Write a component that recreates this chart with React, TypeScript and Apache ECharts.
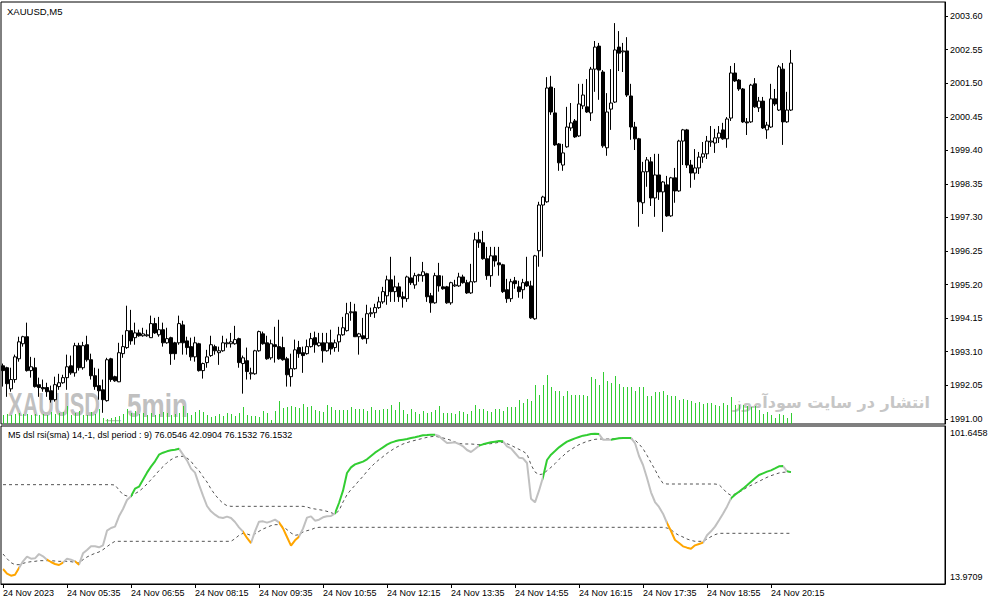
import React, { useEffect, useRef } from "react";
import * as echarts from "echarts";

const symbolTitle = "XAUUSD,M5";
const indicatorTitle = "M5 dsl rsi(sma) 14,-1, dsl period : 9) 76.0546 42.0904 76.1532 76.1532";
const firstDateLabel = "24 Nov 2023";
const dayLabel = "24 Nov";
const startMinutes = 4 * 60 + 15;
const barMinutes = 5;
const barCount = 198;
const emptySlots = 38;
const labelEvery = 16;

const priceTicks = [1991.0, 1992.05, 1993.1, 1994.15, 1995.2, 1996.25, 1997.3, 1998.35, 1999.4, 2000.45, 2001.5, 2002.55, 2003.6];
const priceRange = [1990.84, 2004.04];
const rsiScale = [13.9709, 101.6458];

// [open, close, low, high]
const candles = [
  [1992.66, 1992.51, 1992.01, 1992.73], [1992.6, 1992.1, 1991.69, 1992.63], [1991.94, 1992.23, 1991.85, 1992.6], [1992.23, 1992.94, 1992.13, 1993.01],
  [1992.88, 1993.41, 1992.79, 1993.57], [1993.35, 1993.57, 1993.26, 1993.6], [1993.57, 1992.51, 1992.48, 1994.01], [1992.51, 1992.63, 1992.29, 1992.94],
  [1992.6, 1992.01, 1991.98, 1992.91], [1992.07, 1991.98, 1991.69, 1992.29], [1991.98, 1991.94, 1991.85, 1992.23], [1991.98, 1991.85, 1991.69, 1992.13],
  [1991.88, 1991.6, 1991.51, 1992.04], [1991.6, 1992.07, 1991.54, 1992.32], [1992.01, 1992.13, 1991.91, 1992.41], [1992.13, 1992.29, 1992.1, 1992.38],
  [1992.29, 1992.63, 1991.91, 1993.01], [1992.66, 1992.44, 1992.38, 1992.98], [1992.44, 1993.29, 1992.32, 1993.38], [1993.29, 1992.6, 1992.51, 1993.38],
  [1992.6, 1993.29, 1992.54, 1993.41], [1993.32, 1992.85, 1992.79, 1993.6], [1992.85, 1992.35, 1992.23, 1993.04], [1992.35, 1992.01, 1991.91, 1992.6],
  [1992.04, 1991.88, 1991.6, 1992.57], [1991.91, 1991.6, 1991.19, 1992.23], [1991.57, 1992.85, 1991.54, 1992.91], [1992.88, 1992.23, 1992.16, 1992.91],
  [1992.32, 1992.19, 1992.16, 1992.35], [1992.16, 1993.07, 1992.15, 1993.38], [1993.04, 1993.26, 1992.91, 1993.63], [1993.23, 1993.76, 1993.19, 1994.54],
  [1993.76, 1993.44, 1993.32, 1994.41], [1993.54, 1993.69, 1993.32, 1994.01], [1993.69, 1993.6, 1993.57, 1993.79], [1993.6, 1993.66, 1993.57, 1993.85],
  [1993.6, 1993.63, 1993.57, 1993.79], [1993.54, 1993.98, 1993.53, 1994.23], [1993.98, 1993.69, 1993.66, 1994.16], [1993.63, 1993.79, 1993.57, 1994.19],
  [1993.79, 1993.38, 1993.26, 1994.01], [1993.38, 1993.51, 1993.35, 1993.85], [1993.54, 1993.04, 1992.69, 1993.57], [1993.38, 1993.04, 1992.85, 1993.41],
  [1993.38, 1993.98, 1993.32, 1994.23], [1993.94, 1993.38, 1993.01, 1994.07], [1993.44, 1993.23, 1993.01, 1993.57], [1993.26, 1992.94, 1992.82, 1993.54],
  [1992.94, 1993.38, 1992.79, 1993.57], [1993.35, 1992.51, 1992.48, 1993.38], [1992.51, 1992.73, 1992.26, 1992.76], [1992.76, 1992.94, 1992.6, 1993.16],
  [1992.98, 1993.32, 1992.94, 1993.6], [1993.26, 1993.13, 1993.01, 1993.32], [1993.07, 1993.13, 1992.69, 1993.26], [1993.13, 1993.38, 1993.1, 1993.6],
  [1993.35, 1993.38, 1993.23, 1993.51], [1993.35, 1993.41, 1993.23, 1993.69], [1993.35, 1993.48, 1993.32, 1993.91], [1993.51, 1992.76, 1992.6, 1993.54],
  [1992.73, 1992.91, 1991.79, 1992.98], [1992.82, 1992.48, 1992.23, 1993.23], [1992.41, 1992.44, 1992.23, 1992.6], [1992.41, 1993.13, 1992.38, 1993.16],
  [1993.13, 1993.73, 1993.1, 1993.76], [1993.66, 1993.35, 1993.32, 1993.73], [1993.38, 1992.88, 1992.85, 1993.6], [1992.91, 1993.35, 1992.85, 1993.48],
  [1993.32, 1993.26, 1992.76, 1993.88], [1993.26, 1992.88, 1992.85, 1994.1], [1993.23, 1992.85, 1992.82, 1993.57], [1992.88, 1992.38, 1992.01, 1992.94],
  [1992.32, 1992.57, 1992.01, 1993.04], [1992.57, 1993.16, 1992.54, 1993.48], [1993.23, 1993.04, 1992.91, 1993.44], [1993.07, 1992.98, 1992.44, 1993.26],
  [1993.04, 1993.26, 1993.01, 1993.48], [1993.26, 1993.51, 1993.23, 1993.69], [1993.54, 1993.32, 1993.07, 1993.73], [1993.29, 1993.38, 1993.26, 1993.69],
  [1993.38, 1993.13, 1992.76, 1993.69], [1993.13, 1993.38, 1993.1, 1993.69], [1993.38, 1993.19, 1993.01, 1993.79], [1993.23, 1993.38, 1993.1, 1993.48],
  [1993.41, 1993.63, 1993.1, 1993.88], [1993.63, 1993.85, 1993.6, 1994.19], [1993.76, 1994.29, 1993.73, 1994.63], [1994.32, 1994.35, 1994.07, 1994.66],
  [1994.35, 1993.57, 1993.56, 1994.6], [1993.57, 1993.66, 1993.01, 1993.69], [1993.6, 1993.51, 1993.48, 1994.16], [1993.51, 1994.29, 1993.35, 1994.57],
  [1994.29, 1994.32, 1994.19, 1994.48], [1994.32, 1994.48, 1994.16, 1994.6], [1994.48, 1994.66, 1994.44, 1994.82], [1994.66, 1994.98, 1994.6, 1995.13],
  [1994.85, 1995.35, 1994.57, 1995.48], [1995.35, 1994.98, 1994.66, 1996.07], [1994.98, 1995.13, 1994.66, 1995.48], [1995.13, 1994.82, 1994.66, 1995.26],
  [1994.82, 1994.76, 1994.48, 1994.98], [1994.76, 1995.44, 1994.66, 1995.48], [1995.41, 1995.26, 1995.19, 1996.07], [1995.19, 1995.48, 1995.07, 1995.57],
  [1995.48, 1995.51, 1995.29, 1995.54], [1995.48, 1995.6, 1995.29, 1995.91], [1995.54, 1994.82, 1994.66, 1995.57], [1994.85, 1994.63, 1994.32, 1994.94],
  [1994.63, 1995.48, 1994.6, 1995.57], [1995.48, 1995.16, 1994.98, 1995.88], [1995.13, 1995.07, 1995.04, 1995.48], [1995.13, 1994.63, 1994.6, 1995.16],
  [1994.63, 1995.26, 1994.57, 1995.29], [1995.16, 1995.19, 1995.13, 1995.35], [1995.16, 1995.44, 1995.13, 1995.57], [1995.44, 1995.26, 1995.23, 1995.51],
  [1995.26, 1994.94, 1994.91, 1995.35], [1994.94, 1995.29, 1994.91, 1995.85], [1995.29, 1996.6, 1995.26, 1996.82], [1996.6, 1996.51, 1996.35, 1996.85],
  [1996.51, 1996.01, 1995.98, 1996.88], [1996.01, 1995.48, 1995.35, 1996.38], [1995.48, 1996.1, 1995.13, 1996.38], [1996.1, 1995.94, 1995.76, 1996.38],
  [1995.88, 1995.82, 1995.48, 1996.38], [1995.82, 1994.98, 1994.94, 1995.85], [1995.04, 1994.76, 1994.63, 1995.38], [1994.76, 1995.29, 1994.66, 1995.38],
  [1995.32, 1995.23, 1995.07, 1995.44], [1995.13, 1994.98, 1994.79, 1995.32], [1995.04, 1995.26, 1994.76, 1995.38], [1995.29, 1995.16, 1995.13, 1996.07],
  [1995.16, 1994.16, 1994.13, 1995.32], [1994.13, 1996.1, 1994.1, 1996.13], [1996.26, 1997.69, 1995.76, 1997.79], [1997.69, 1997.94, 1996.07, 1997.98],
  [1997.79, 2001.35, 1997.76, 2001.69], [2001.38, 2000.6, 2000.51, 2001.73], [2000.57, 1999.57, 1999.54, 2001.35], [1999.6, 1999.01, 1998.76, 1999.63],
  [1998.94, 1999.32, 1998.76, 1999.6], [1999.51, 2000.13, 1999.48, 2000.76], [2000.1, 2000.26, 2000.01, 2000.88], [2000.32, 1999.82, 1999.79, 2000.38],
  [1999.85, 2000.85, 1999.82, 2001.48], [2000.79, 2001.13, 2000.69, 2001.48], [2000.76, 2000.6, 2000.57, 2001.63], [2000.57, 2001.94, 2000.32, 2002.01],
  [2001.94, 2002.63, 2001.23, 2002.82], [2002.66, 2001.91, 2000.98, 2002.76], [2001.85, 1999.54, 1999.48, 2001.91], [1999.48, 2000.6, 1999.23, 2001.19],
  [2000.69, 2000.88, 2000.04, 2001.94], [2000.91, 2002.54, 2000.88, 2003.38], [2002.63, 2002.44, 2001.88, 2003.13], [2002.48, 2002.51, 2001.85, 2002.76],
  [2002.51, 2001.13, 2001.07, 2002.94], [2001.1, 2000.13, 1999.73, 2001.48], [2000.13, 1999.76, 1999.41, 2000.29], [1999.76, 1997.79, 1997.01, 1999.79],
  [1997.76, 1998.73, 1997.41, 1999.04], [1998.73, 1999.1, 1998.26, 1999.19], [1999.04, 1997.91, 1997.66, 1999.19], [1997.91, 1998.63, 1997.32, 1999.29],
  [1998.63, 1998.1, 1997.85, 1999.29], [1998.1, 1998.41, 1996.85, 1998.44], [1998.32, 1997.35, 1997.32, 1998.6], [1997.35, 1998.54, 1997.32, 1998.57],
  [1998.54, 1998.13, 1997.76, 1998.85], [1998.13, 1999.69, 1998.1, 1999.73], [1999.69, 2000.04, 1998.94, 2000.07], [2000.04, 1998.94, 1998.85, 2000.07],
  [1998.94, 1998.69, 1998.23, 1999.1], [1998.69, 1998.85, 1998.48, 1999.44], [1998.85, 1999.19, 1998.66, 1999.35], [1999.19, 1999.29, 1999.01, 1999.66],
  [1999.29, 1999.69, 1999.13, 1999.85], [1999.66, 1999.69, 1999.51, 2000.16], [1999.63, 1999.79, 1999.32, 2000.07], [1999.79, 1999.94, 1999.63, 2000.16],
  [2000.04, 1999.76, 1999.73, 2000.26], [1999.76, 2000.38, 1999.48, 2000.44], [2000.41, 2001.82, 2000.32, 2002.04], [2001.82, 2001.57, 2001.54, 2002.13],
  [2001.6, 2001.32, 2001.26, 2001.63], [2001.32, 2000.29, 2000.26, 2001.35], [2000.29, 2000.26, 1999.88, 2000.41], [2000.29, 2001.44, 2000.26, 2001.48],
  [2001.48, 2000.76, 2000.73, 2001.66], [2000.73, 2000.94, 2000.6, 2001.07], [2000.94, 2000.1, 2000.07, 2001.07], [2000.04, 2000.19, 1999.76, 2000.29],
  [2000.13, 2001.01, 2000.1, 2001.48], [2001.01, 2000.85, 2000.79, 2001.32], [2000.66, 2002.01, 2000.63, 2002.07], [2001.94, 2000.29, 1999.57, 2002.13],
  [2000.29, 2000.66, 2000.26, 2001.23], [2000.66, 2002.13, 2000.63, 2002.54],
];

const volumes = [
  9, 10, 9, 10, 11, 10, 10, 9, 10, 9, 10, 9, 12, 10, 11, 12, 18, 9, 11, 13,
  9, 9, 12, 10, 15, 6, 5, 6, 7, 8, 10, 15, 11, 13, 10, 11, 9, 11, 9, 10,
  12, 11, 9, 10, 11, 18, 11, 9, 12, 14, 12, 9, 7, 8, 10, 8, 11, 10, 8, 11,
  17, 9, 8, 8, 7, 13, 11, 4, 13, 23, 16, 17, 18, 17, 16, 20, 17, 18, 14, 13,
  12, 19,
  17, 14, 14, 14, 14, 17, 15, 15, 15, 13, 17, 14, 14, 15, 15, 19, 14, 22, 14, 10,
  15, 12, 10, 13, 11, 12, 14, 18, 11, 11, 11, 10, 13, 12, 10, 13, 19, 15, 15, 13,
  12, 15, 15, 13, 17, 17, 17, 24, 21, 25, 23, 39, 29, 39, 49, 37, 33, 33, 28, 33,
  29, 29, 29, 29, 28, 47, 45, 39, 52, 43, 41, 48, 40, 37, 37, 37, 33, 37, 37, 28,
  28, 32, 32,
  33, 29, 28, 28, 24, 25, 24, 23, 21, 22, 20, 21, 21, 19, 18, 21, 19, 27, 19, 19,
  19, 18, 17, 18, 14, 10, 12, 9, 6, 10, 9, 6, 11,
];

const rsi = [
  22.29, 19.7, 18.6, 19.15, 22.85, 26.55, 29.14, 28.03, 28.21, 30.62,
  29.33, 27.47, 26.18, 25.07, 24.51, 25.81, 28.03, 27.47, 26.55, 24.7,
  30.99, 32.84, 34.87, 34.87, 34.32, 35.43, 43.57, 45.05, 45.79, 51.52,
  55.59, 60.58, 62.62, 66.87, 67.98, 71.87, 75.75, 79.08, 82.04, 85.74,
  86.84, 87.59, 88.14, 88.51, 89.07, 85.74, 82.59, 77.97, 75.75, 69.09,
  62.99, 57.25, 54.29, 52.44, 50.97, 50.59, 51.34, 50.59, 48.38, 45.42,
  43.01, 39.5, 36.72, 43.2, 48.56, 48.75, 48.01, 48.75, 49.67, 48.19,
  44.86, 40.05, 35.24, 38.2, 40.24, 44.67, 50.78, 51.52, 49.12, 49.67,
  50.97, 51.52, 51.7, 53.18, 58.92, 65.76, 75.57, 78.71, 80.37, 81.11,
  81.85, 83.15, 85.0, 86.84, 88.33, 89.81, 91.29, 92.4, 93.14, 93.69,
  94.06, 94.43, 94.99, 95.36, 95.91, 96.47, 96.65, 96.84, 96.84, 96.1,
  94.06, 92.21, 92.4, 92.58, 91.66, 90.36, 88.33, 87.22, 88.88, 90.73,
  91.47, 92.03, 92.58, 92.95, 93.32, 93.14, 90.36, 89.25, 86.66, 84.07,
  83.7, 81.11, 61.32, 59.29, 65.76, 73.16, 82.78, 85.74, 87.77, 89.81,
  91.47, 92.95, 93.88, 94.8, 95.54, 96.28, 96.65, 97.21, 97.39, 97.21,
  94.06, 94.06, 94.06, 94.43, 94.8, 94.99, 94.99, 94.99, 92.21, 85.0,
  80.0, 72.79, 64.84, 59.47, 56.7, 53.0, 47.82, 43.38, 38.39, 36.72,
  34.87, 34.13, 33.58, 35.43, 36.17, 36.91, 40.98, 43.2, 45.79, 49.3,
  53.0, 56.88, 61.51, 63.54, 65.2, 66.87, 68.72, 70.76, 72.61, 74.46,
  75.38, 76.3, 77.05, 78.15, 79.26, 79.45, 76.49, 76.0546,
];

const levelUp = [
  69.09, 69.09, 69.09, 69.09, 69.09, 69.09, 69.09, 69.09, 69.09, 69.09,
  69.09, 69.09, 69.09, 69.09, 69.09, 69.09, 69.09, 69.09, 69.09, 69.09,
  69.09, 69.09, 69.09, 69.09, 69.09, 69.09, 69.09, 69.09, 68.91, 66.13,
  63.54, 62.8, 62.7, 64.1, 65.39, 67.24, 69.46, 71.87, 74.27, 76.86,
  79.08, 81.3, 82.96, 84.26, 84.81, 84.81, 83.89, 82.04, 79.08, 76.86,
  73.53, 70.57, 66.69, 63.54, 60.95, 58.73, 57.44, 57.07, 57.07, 57.07,
  57.07, 57.07, 57.07, 57.07, 57.07, 57.07, 57.07, 57.07, 57.07, 57.07,
  57.07, 57.07, 57.07, 57.07, 57.07, 57.07, 56.7, 55.96, 55.59, 55.22,
  54.85, 54.29, 53.55, 52.81, 54.66, 59.47, 63.54, 66.32, 68.72, 71.31,
  73.72, 76.49, 78.9, 81.11, 82.96, 84.63, 86.48, 87.96, 89.44, 90.55,
  91.66, 92.4, 93.14, 93.69, 94.25, 94.8, 95.36, 95.73, 95.91, 95.54,
  94.99, 94.43, 93.69, 92.77, 92.03, 91.66, 91.66, 91.66, 91.47, 91.29,
  91.47, 91.66, 91.84, 92.21, 92.58, 92.58, 91.84, 90.92, 89.81, 88.7,
  87.59, 86.11, 80.19, 76.12, 74.64, 75.01, 76.86, 78.71, 80.74, 83.15,
  85.0, 87.22, 88.51, 89.99, 91.29, 92.21, 93.14, 93.69, 94.25, 94.43,
  94.43, 94.43, 94.43, 94.62, 94.8, 94.8, 94.8, 94.62, 93.88, 91.66,
  89.07, 85.37, 81.3, 77.41, 73.16, 69.83, 69.46, 69.46, 69.46, 69.46,
  69.46, 69.46, 69.46, 69.46, 69.46, 69.46, 69.46, 69.46, 69.46, 69.09,
  66.87, 64.47, 63.17, 63.91, 64.84, 66.13, 67.61, 68.72, 69.83, 70.94,
  72.05, 73.16, 74.09, 74.83, 75.57, 75.93, 76.12, 76.1532,
];

const levelDown = [
  30.62, 28.03, 25.81, 24.7, 24.7, 25.44, 25.99, 26.36, 26.55, 26.92,
  26.92, 26.92, 26.92, 26.73, 26.55, 26.55, 26.55, 26.36, 25.99, 25.62,
  27.47, 28.95, 30.06, 30.99, 31.73, 33.02, 34.69, 36.35, 37.65, 37.65,
  37.65, 37.65, 37.65, 37.65, 37.65, 37.65, 37.65, 37.65, 37.65, 37.65,
  37.65, 37.65, 37.65, 37.65, 37.65, 37.65, 37.65, 37.65, 37.65, 37.65,
  37.65, 37.65, 37.65, 37.65, 37.65, 37.65, 37.65, 37.65, 39.13, 40.98,
  42.09, 41.72, 40.98, 41.72, 43.2, 44.49, 45.42, 46.34, 46.9, 46.9,
  45.79, 44.12, 42.27, 40.98, 41.35, 42.83, 43.57, 44.12, 45.05, 45.42,
  45.42, 45.42, 45.42, 45.42, 45.42, 45.42, 45.42, 45.42, 45.42, 45.42,
  45.42, 45.42, 45.42, 45.42, 45.42, 45.42, 45.42, 45.42, 45.42, 45.42,
  45.42, 45.42, 45.42, 45.42, 45.42, 45.42, 45.42, 45.42, 45.42, 45.42,
  45.42, 45.42, 45.42, 45.42, 45.42, 45.42, 45.42, 45.42, 45.42, 45.42,
  45.42, 45.42, 45.42, 45.42, 45.42, 45.42, 45.42, 45.42, 45.42, 45.42,
  45.42, 45.42, 45.42, 45.42, 45.42, 45.42, 45.42, 45.42, 45.42, 45.42,
  45.42, 45.42, 45.42, 45.42, 45.42, 45.42, 45.42, 45.42, 45.42, 45.42,
  45.42, 45.42, 45.42, 45.42, 45.42, 45.42, 45.42, 45.42, 45.42, 45.42,
  45.42, 45.42, 45.42, 45.42, 45.42, 45.42, 45.05, 44.12, 42.27, 40.98,
  40.05, 38.94, 38.2, 37.65, 37.65, 37.65, 38.94, 40.24, 41.35, 42.09,
  42.0904, 42.0904, 42.0904, 42.0904, 42.0904, 42.0904, 42.0904, 42.0904, 42.0904, 42.0904,
  42.0904, 42.0904, 42.0904, 42.0904, 42.0904, 42.0904, 42.0904, 42.0904,
];

// bar index ranges where the rsi line changes colour
const greenRanges = [[32, 44], [83, 108], [119, 125], [135, 149], [152, 157], [182, 195], [196, 197]];
const orangeRanges = [[0, 4], [11, 15], [18, 19], [60, 62], [69, 74], [166, 175]];

const UI_FONT = "Liberation Sans";

function pad2(n: number) {
  return n < 10 ? "0" + n : "" + n;
}

const barTimes = candles.map((_, i) => {
  const m = startMinutes + barMinutes * i;
  return `${dayLabel} ${pad2(Math.floor(m / 60))}:${pad2(m % 60)}`;
});
const categories = [...barTimes, ...Array.from({ length: emptySlots }, (_, i) => `empty${i}`)];

const showTime = (index: number) => index < barCount && index % labelEvery === 0;

export default function App() {
  const ref = useRef<HTMLDivElement>(null);

  useEffect(() => {
    document.body.style.margin = "0";
    const chart = echarts.init(ref.current as HTMLDivElement, null, { renderer: "svg" });

    const hiddenCat = {
      type: "category", data: categories, boundaryGap: true,
      axisLine: { show: false }, axisTick: { show: false }, axisLabel: { show: false }, splitLine: { show: false },
    };

    const option: any = {
      animation: false,
      backgroundColor: "#ffffff",
      textStyle: { fontFamily: UI_FONT },
      grid: [
        { left: 1, top: 2, width: 944, height: 422, show: true, borderColor: "#000", borderWidth: 1, backgroundColor: "transparent", outerBoundsMode: "none", containLabel: false },
        { left: 1, top: 426, width: 944, height: 158, show: true, borderColor: "#000", borderWidth: 1, backgroundColor: "transparent", outerBoundsMode: "none", containLabel: false },
        { left: 1.5, top: 2, width: 944, height: 422, show: false, outerBoundsMode: "none", containLabel: false },
      ],
      xAxis: [
        { ...hiddenCat, gridIndex: 0 },
        {
          type: "category", gridIndex: 1, data: categories, boundaryGap: true,
          axisLine: { show: true, lineStyle: { color: "#000", width: 1 } },
          axisTick: { show: true, alignWithLabel: true, interval: (i: number) => showTime(i), length: 4, lineStyle: { color: "#000" } },
          axisLabel: {
            interval: (i: number) => showTime(i),
            formatter: (v: string, i: number) => (i === 0 ? firstDateLabel : i < barCount ? v : ""),
            align: "left", margin: 4, fontSize: 9, color: "#000", fontFamily: UI_FONT,
          },
          splitLine: { show: false },
        },
        { ...hiddenCat, gridIndex: 2 },
      ],
      yAxis: [
        {
          type: "value", gridIndex: 0, position: "right", min: priceRange[0], max: priceRange[1],
          splitLine: { show: false },
          axisLine: { show: true, lineStyle: { color: "#000" } },
          axisTick: { show: true, customValues: priceTicks, length: 3, lineStyle: { color: "#000" } },
          axisLabel: { customValues: priceTicks, formatter: (v: number) => v.toFixed(2), margin: 5, fontSize: 9, color: "#000", fontFamily: UI_FONT },
        },
        { type: "value", gridIndex: 2, min: 0, max: 422, show: false },
        {
          type: "value", gridIndex: 1, position: "right", min: rsiScale[0], max: rsiScale[1],
          splitLine: { show: false },
          axisLine: { show: true, lineStyle: { color: "#000" } },
          axisTick: { show: false },
          axisLabel: {
            customValues: rsiScale,
            formatter: (v: number) => (v > 50 ? "\n" + v.toFixed(4) : v.toFixed(4) + "\n"),
            lineHeight: 14, margin: 5, fontSize: 9, color: "#000", fontFamily: UI_FONT,
          },
        },
      ],
      visualMap: {
        show: false, type: "piecewise", seriesIndex: 4, dimension: 0,
        pieces: [
          ...greenRanges.map(([a, b]) => ({ gte: a, lte: b, color: "#32cd32" })),
          ...orangeRanges.map(([a, b]) => ({ gte: a, lte: b, color: "#ffa500" })),
        ],
        outOfRange: { color: "#c0c0c0" },
      },
      series: [
        {
          type: "bar", name: "volume", xAxisIndex: 2, yAxisIndex: 1, data: volumes, barWidth: 1,
          itemStyle: { color: "#32cd32" }, z: 1, silent: true,
        },
        {
          type: "candlestick", name: "XAUUSD", xAxisIndex: 0, yAxisIndex: 0, data: candles, barWidth: 3,
          itemStyle: { color: "#ffffff", color0: "#000000", borderColor: "#000000", borderColor0: "#000000", borderColorDoji: "#000000", borderWidth: 1 },
          z: 3, silent: true,
        },
        {
          type: "line", name: "level up", xAxisIndex: 1, yAxisIndex: 2, data: levelUp, symbol: "none",
          lineStyle: { color: "#555555", width: 1, type: [3, 3] }, z: 2, silent: true,
        },
        {
          type: "line", name: "level down", xAxisIndex: 1, yAxisIndex: 2, data: levelDown, symbol: "none",
          lineStyle: { color: "#555555", width: 1, type: [3, 3] }, z: 2, silent: true,
        },
        {
          type: "line", name: "dsl rsi", xAxisIndex: 1, yAxisIndex: 2, data: rsi, symbol: "none",
          lineStyle: { width: 2 }, z: 3, silent: true,
        },
      ],
      graphic: [
        { type: "text", x: 8, y: 405, scaleX: 0.66, z: 0, style: { text: "XAUUSD", fontSize: 33, fontWeight: "bold", fontFamily: UI_FONT, fill: "#c0c0c0", verticalAlign: "middle" } },
        { type: "text", x: 106, y: 405, scaleX: 0.79, z: 0, style: { text: "_", fontSize: 33, fontWeight: "bold", fontFamily: UI_FONT, fill: "#c0c0c0", verticalAlign: "middle" } },
        { type: "text", x: 127, y: 405, scaleX: 0.79, z: 0, style: { text: "5min", fontSize: 33, fontWeight: "bold", fontFamily: UI_FONT, fill: "#c0c0c0", verticalAlign: "middle" } },
        { type: "text", x: 930, y: 402.5, z: 0, style: { text: "انتشار در سایت سودآموز", fontSize: 16, fontWeight: "bold", fontFamily: "DejaVu Sans", fill: "#c6c6c6", align: "right", verticalAlign: "middle" } },
        { type: "text", x: 7, y: 11, z: 10, style: { text: symbolTitle, fontSize: 9.5, fontFamily: UI_FONT, fill: "#000", verticalAlign: "middle" } },
        { type: "text", x: 8, y: 435, z: 10, style: { text: indicatorTitle, fontSize: 9, fontFamily: UI_FONT, fill: "#000", verticalAlign: "middle" } },
      ],
    };

    chart.setOption(option);
    return () => chart.dispose();
  }, []);

  return <div ref={ref} style={{ position: "fixed", left: 0, top: 0, width: 991, height: 605, background: "#fff" }} />;
}
